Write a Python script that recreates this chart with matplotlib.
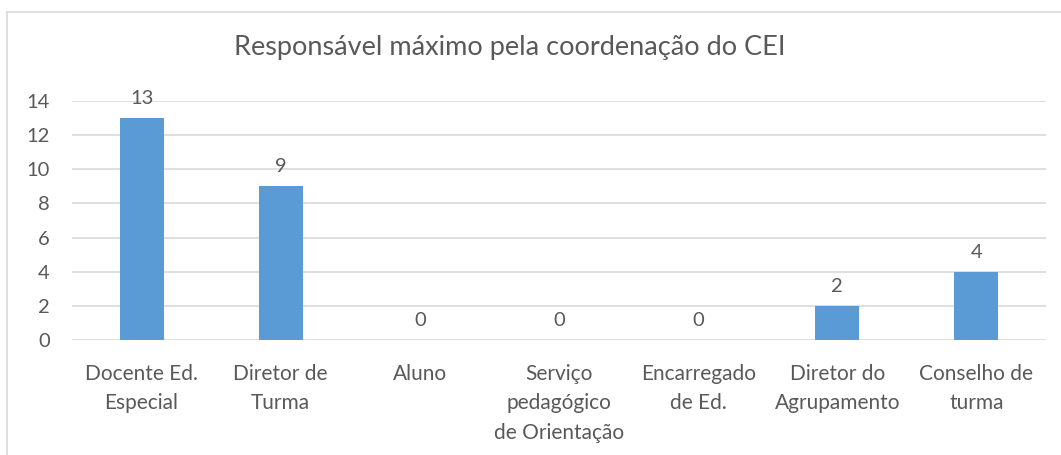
import matplotlib
matplotlib.use("Agg")
import matplotlib.pyplot as plt
from matplotlib.lines import Line2D

# dados
categorias = ["Docente Ed.\nEspecial", "Diretor de\nTurma", "Aluno",
              "Serviço\npedagógico\nde Orientação", "Encarregado\nde Ed.",
              "Diretor do\nAgrupamento", "Conselho de\nturma"]
valores = [13, 9, 0, 0, 0, 2, 4]
y_ticks = [0, 2, 4, 6, 8, 10, 12, 14]

cor_barra = "#5B9BD5"
cor_texto = "#595959"
cor_grelha = "#D9D9D9"

plt.rcParams["font.family"] = ["Lato", "DejaVu Sans"]

fig = plt.figure(figsize=(10.61, 4.55), dpi=100)
ax = fig.add_axes([72 / 1061, 1 - 340 / 455, (1046 - 72) / 1061, (340 - 101) / 455])

x = range(len(categorias))
barras = ax.bar(x, valores, width=0.316, color=cor_barra, zorder=3)

for b, v in zip(barras, valores):
    ax.annotate(str(v), (b.get_x() + b.get_width() / 2, v), xytext=(0, 8),
                textcoords="offset points", ha="center", va="bottom",
                fontsize=14.5, color=cor_texto)

ax.set_xlim(-0.5, len(categorias) - 0.5)
ax.set_ylim(0, 14)
ax.set_yticks(y_ticks)
ax.set_xticks(list(x))
ax.set_xticklabels(categorias, fontsize=15, color=cor_texto, linespacing=1.6)
ax.tick_params(axis="y", length=0, pad=16, labelsize=14.5, labelcolor=cor_texto)
ax.tick_params(axis="x", length=0, pad=17)
ax.yaxis.grid(True, color=cor_grelha, linewidth=1.2, zorder=0)
for s in ax.spines.values():
    s.set_visible(False)

fig.text(510 / 1061, 1 - 47 / 455, "Responsável máximo pela coordenação do CEI",
         ha="center", va="center", fontsize=19.5, color=cor_texto)

# moldura do gráfico
fig.add_artist(Line2D([7 / 1061, 7 / 1061], [0, 1 - 12 / 455], transform=fig.transFigure,
                      color=cor_grelha, linewidth=1.2))
fig.add_artist(Line2D([7 / 1061, 1], [1 - 12 / 455, 1 - 12 / 455], transform=fig.transFigure,
                      color=cor_grelha, linewidth=1.2))

fig.savefig("out.png", dpi=100, facecolor="white")
